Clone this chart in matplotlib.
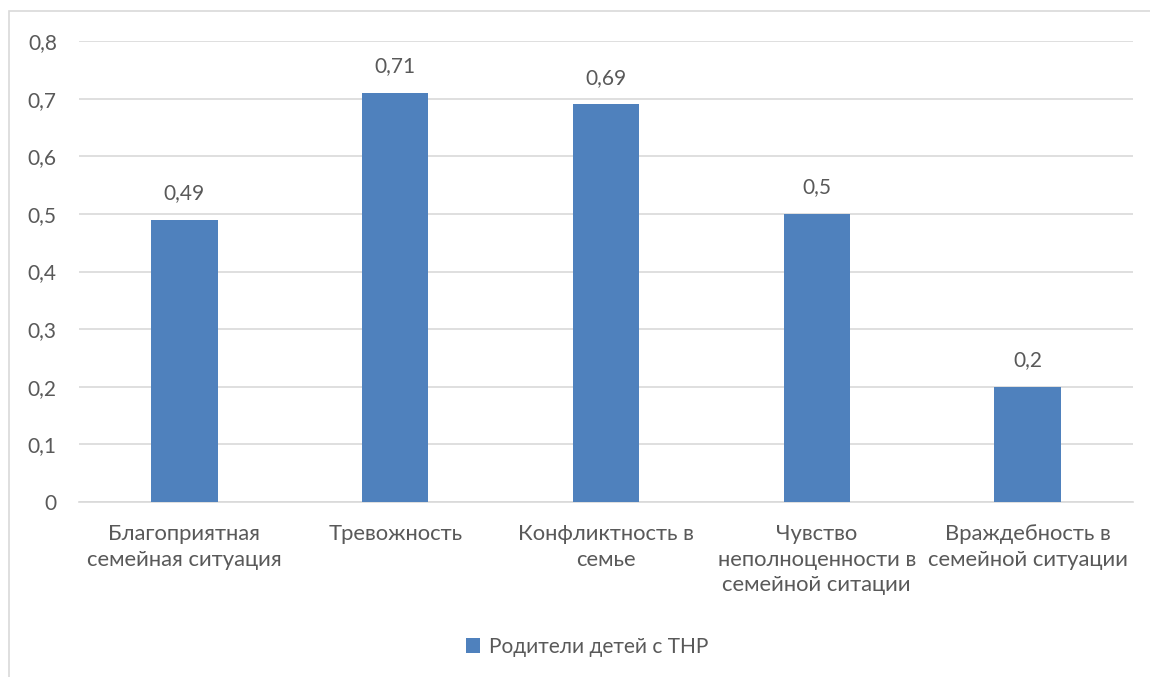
import matplotlib.pyplot as plt
from matplotlib.patches import Rectangle

categories = ["Благоприятная\nсемейная ситуация", "Тревожность", "Конфликтность в\nсемье",
              "Чувство\nнеполноценности в\nсемейной ситации", "Враждебность в\nсемейной ситуации"]
values = [0.49, 0.71, 0.69, 0.5, 0.2]
series_name = "Родители детей с ТНР"

plt.rcParams['font.family'] = ['Lato', 'DejaVu Sans']
txt = '#595959'
grid = '#D9D9D9'

fig = plt.figure(figsize=(11.5, 6.77), dpi=100)
ax = fig.add_axes([79/1150, 1 - 502/677, (1133-79)/1150, (502-41)/677])

# chart frame (cropped at right/bottom like the original)
fig.patches.append(Rectangle((9/1150, -0.2), 1.2, 1 - 11/677 + 0.2, transform=fig.transFigure,
                             fill=False, edgecolor=grid, lw=1.2))

x = range(len(categories))
bars = ax.bar(x, values, width=0.315, color='#4F81BD', label=series_name, zorder=3)

for b, v in zip(bars, values):
    ax.annotate(f"{v:g}".replace('.', ','), (b.get_x() + b.get_width()/2, v),
                xytext=(0, 12), textcoords='offset points', ha='center', va='bottom',
                fontsize=15, color=txt)

ax.set_xlim(-0.5, len(categories) - 0.5)
ax.set_ylim(0, 0.8)
yt = [i/10 for i in range(9)]
ax.set_yticks(yt)
ax.set_yticklabels([f"{t:g}".replace('.', ',') for t in yt])
ax.set_xticks(list(x))
ax.set_xticklabels(categories, linespacing=1.35, fontsize=15.8)
ax.tick_params(axis='both', length=0, labelcolor=txt)
ax.tick_params(axis='y', pad=16, labelsize=15)
ax.tick_params(axis='x', pad=16)
ax.grid(axis='y', color=grid, lw=1.2, zorder=0)
for s in ['top', 'right', 'left']:
    ax.spines[s].set_visible(False)
ax.spines['bottom'].set_color(grid)
ax.spines['bottom'].set_linewidth(1.2)

fig.legend(loc='center', bbox_to_anchor=(587/1150, 1 - 647/677), frameon=False,
           fontsize=15, labelcolor=txt, handlelength=0.7, handleheight=0.7, handletextpad=0.4)

fig.savefig('out.png', dpi=100)
